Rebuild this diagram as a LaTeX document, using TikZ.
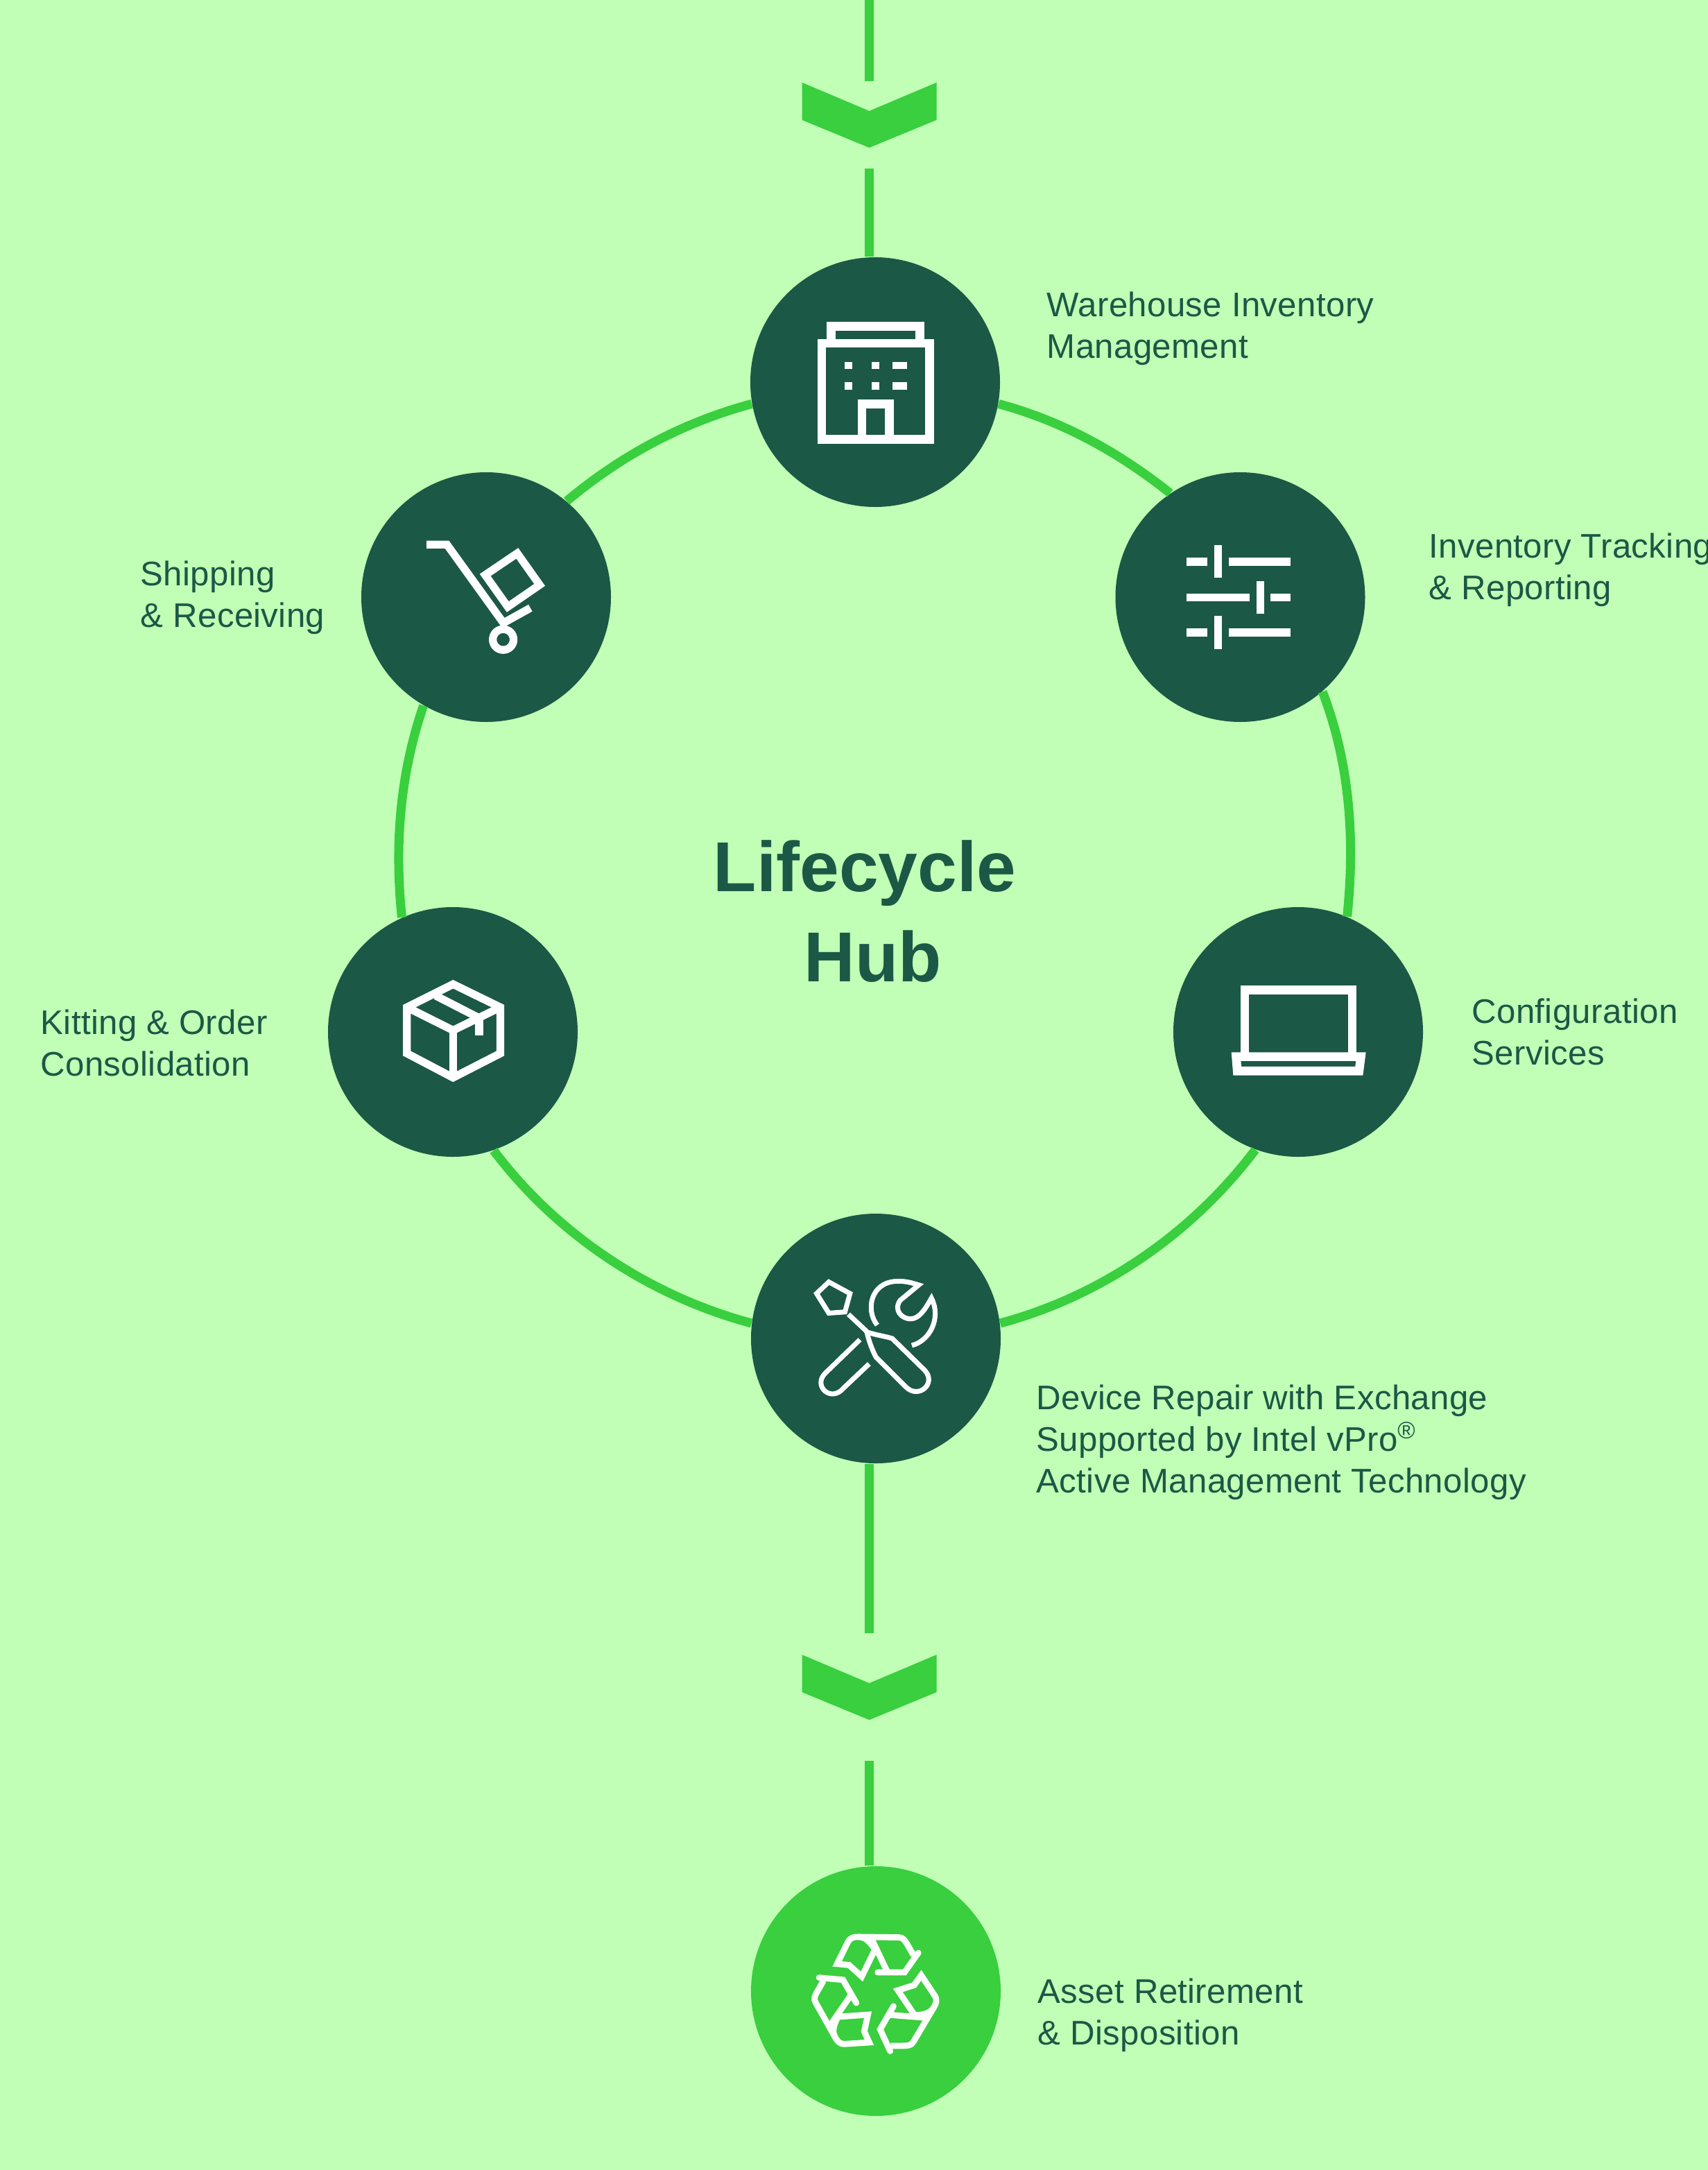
\documentclass[tikz,border=0pt]{standalone}
\usepackage{fontspec}
\setmainfont{Liberation Sans}
\newfontfamily\tagfont[LetterSpace=0.7]{Liberation Sans}
\usepackage{tikz}
\usetikzlibrary{arrows.meta}

\definecolor{pagegreen}{HTML}{C0FFB5}
\definecolor{ringgreen}{HTML}{39CF3E}
\definecolor{hubdark}{HTML}{1C5846}

\tikzset{
  hubcircle/.style={circle, fill=hubdark, minimum size=3.6cm, inner sep=0pt},
  assetcircle/.style={circle, fill=ringgreen, minimum size=3.6cm, inner sep=0pt},
  ringline/.style={draw=ringgreen, line width=3.7pt, looseness=0.87},
  flowline/.style={draw=ringgreen, line width=3.7pt},
  tag/.style={anchor=west, align=left, text=hubdark, font=\tagfont\fontsize{14}{17.1}\selectfont, inner sep=0pt},
  icon/.style={draw=white, line width=#1, x=0.003333cm, y=-0.003333cm, line cap=butt, line join=miter},
  recyclearm/.pic={
    \draw (-168,-130) -- (-121,-225) .. controls (-110,-245) and (-95,-247) .. (-76,-247) .. controls (-45,-247) and (-25,-225) .. (-4,-192) -- (-61,-75) -- (-116,-125) -- cycle;
    \draw (-76,-247) -- (98,-245) .. controls (118,-245) and (125,-232) .. (134,-218) -- (163,-168);
    \draw (-19,-240) -- (49,-97);
    \draw[line cap=round] (184,-178) -- (124,-93) -- (8,-93);
  }
}

\begin{document}
\begin{tikzpicture}[x=1cm, y=-1cm]
\useasboundingbox (0,0) rectangle (24.63,31.29);
\fill[pagegreen] (0,0) rectangle (24.63,31.29);

\node[hubcircle] (wh) at (12.62,5.51) {};
\node[hubcircle] (track) at (17.885,8.61) {};
\node[hubcircle] (conf) at (18.72,14.88) {};
\node[hubcircle] (rep) at (12.63,19.30) {};
\node[hubcircle] (kit) at (6.53,14.88) {};
\node[hubcircle] (ship) at (7.01,8.61) {};
\node[assetcircle] (asset) at (12.63,28.71) {};

\node[text=hubdark, align=center, font=\fontsize{29}{37}\selectfont\bfseries] (hub) at (12.47,13.14) {Lifecycle\\\hspace*{0.24cm}Hub};

\node[tag] (whtag) at (15.09,4.74) {Warehouse Inventory\\Management};
\node[tag] (tracktag) at (20.60,8.22) {Inventory Tracking\\\& Reporting};
\node[tag] (conftag) at (21.22,14.88) {Configuration\\Services};
\node[tag] (reptag) at (14.94,20.80) {Device Repair with Exchange\\Supported by Intel vPro\textsuperscript{®}\\Active Management Technology};
\node[tag] (assettag) at (14.96,29.06) {Asset Retirement\\\& Disposition};
\node[tag] (shiptag) at (2.02,8.62) {Shipping\\\& Receiving};
\node[tag] (kittag) at (0.58,15.04) {Kitting \& Order\\Consolidation};

\draw[ringline] (wh.-10.7) to[out=-15, in=141.5] (track.124);
\draw[ringline] (track.-49.7) to[out=-69, in=84] (conf.67);
\draw[ringline] (conf.-110) to[out=-127, in=15] (rep.7);
\draw[ringline] (rep.173) to[out=165, in=-53] (kit.-71);
\draw[ringline] (kit.114) to[out=96, in=-109] (ship.-120);
\draw[ringline] (ship.50.6) to[out=40, in=195] (wh.190.7);

\coordinate (chevA) at (12.535,1.19);
\coordinate (chevB) at (12.535,23.86);
\coordinate (topin) at (12.535,0);
\coordinate (chevAup) at (12.535,1.17);
\coordinate (chevAdn) at (12.535,2.43);
\coordinate (chevBup) at (12.535,23.55);
\coordinate (chevBdn) at (12.535,25.39);

\fill[ringgreen] (chevA) +(-0.97,0) -- +(0,0.41) -- +(0.97,0) -- +(0.97,0.54) -- +(0,0.94) -- +(-0.97,0.54) -- cycle;
\fill[ringgreen] (chevB) +(-0.97,0) -- +(0,0.41) -- +(0.97,0) -- +(0.97,0.54) -- +(0,0.94) -- +(-0.97,0.54) -- cycle;

\draw[flowline] (topin) -- (chevAup);
\draw[flowline] (chevAdn) -- (chevAdn |- wh.north);
\draw[flowline] (chevBup |- rep.south) -- (chevBup);
\draw[flowline] (chevBdn) -- (chevBdn |- asset.north);

\begin{scope}[shift={(wh)}, icon=3.6pt]
\draw (-232,-168) rectangle (236,249);
\draw (-190,-168) -- (-190,-243) -- (194,-243) -- (194,-168);
\draw (-57,249) -- (-57,95) -- (62,95) -- (62,249);
\fill[white] (-133,-88) rectangle (-100,-56);
\fill[white] (-14,-88) rectangle (19,-56);
\fill[white] (75,-88) rectangle (138,-56);
\fill[white] (-133,0) rectangle (-100,34);
\fill[white] (-14,0) rectangle (19,34);
\fill[white] (75,0) rectangle (138,34);
\end{scope}

\begin{scope}[shift={(ship)}, icon=3.2pt]
\draw (-258,-228) -- (-170,-228) -- (75,112) -- (192,47);
\draw (135,-190) -- (232,-53) -- (94,42) -- (-4,-96) -- cycle;
\draw (74,184) circle[radius=45];
\end{scope}

\begin{scope}[shift={(track)}, icon=3.2pt]
\draw (-232,-153) -- (-144,-153);
\draw (-97,-225) -- (-97,-85);
\draw (-50,-153) -- (218,-153);
\draw (-232,1) -- (40,1);
\draw (86,-69) -- (86,73);
\draw (130,1) -- (218,1);
\draw (-232,153) -- (-144,153);
\draw (-97,82) -- (-97,225);
\draw (-50,153) -- (218,153);
\end{scope}

\begin{scope}[shift={(kit)}, icon=3.2pt]
\draw (1,-207) -- (206,-107) -- (206,93) -- (1,198) -- (-199,93) -- (-199,-107) -- cycle;
\draw (-199,-107) -- (1,-7) -- (206,-107);
\draw (1,-7) -- (1,198);
\draw (-74,-157) -- (121,-57);
\draw (114,-62) -- (114,15);
\end{scope}

\begin{scope}[shift={(conf)}, icon=3.6pt]
\draw (-232,107) -- (-232,-182) -- (234,-182) -- (234,107);
\draw (-269,107) -- (272,107) -- (264,169) -- (-264,169) -- cycle;
\end{scope}

\begin{scope}[shift={(rep)}, icon=2pt]
\draw (-204,-245) -- (-112,-195) -- (-134,-115) -- (-204,-110) -- (-257,-195) -- cycle;
\draw (-119,-105) -- (-39,-30);
\draw (-39,-28) .. controls (0,-15) and (40,-10) .. (71,0) -- (212,138) .. controls (265,195) and (185,265) .. (130,210) -- (0,80) .. controls (-20,40) and (-30,10) .. (-39,-28) -- cycle;
\draw (-69,5) -- (-219,150) .. controls (-275,205) and (-195,280) .. (-140,215) -- (-29,110);
\draw (6,-58) .. controls (-45,-120) and (-25,-245) .. (91,-248) .. controls (130,-250) and (160,-240) .. (186,-232) -- (105,-165) .. controls (75,-120) and (115,-85) .. (150,-85) .. controls (190,-85) and (215,-130) .. (241,-175) .. controls (285,-90) and (235,10) .. (156,30);
\end{scope}

\begin{scope}[shift={(asset)}, yshift=-0.04cm, icon=2.5pt]
\pic {recyclearm};
\pic[rotate=-120] {recyclearm};
\pic[rotate=-240] {recyclearm};
\end{scope}
\end{tikzpicture}
\end{document}
